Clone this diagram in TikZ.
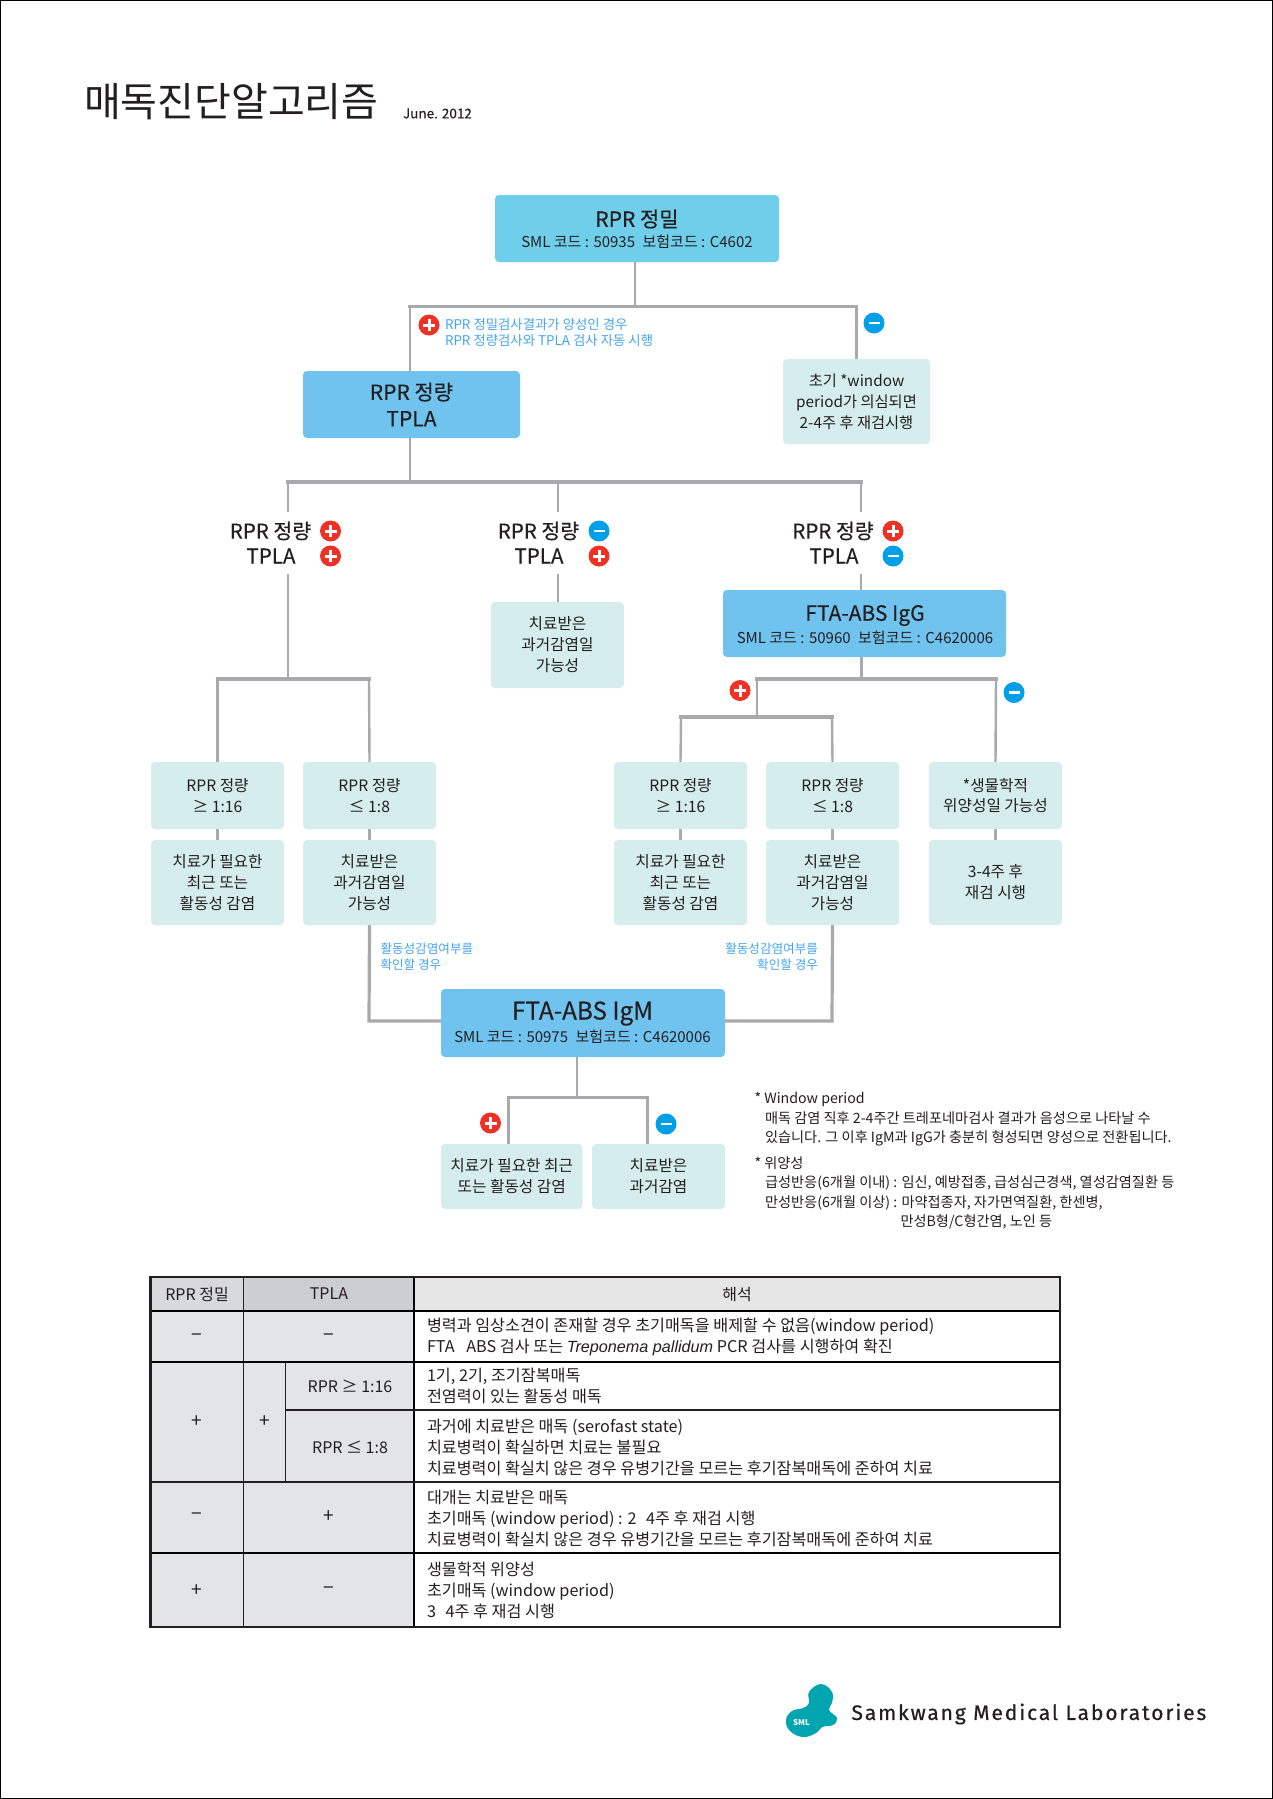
\documentclass[tikz,border=0pt]{standalone}
\usepackage{fontspec}
\setmainfont{Noto Sans CJK KR}
\newfontfamily\latinit{Liberation Sans}
\newfontfamily\medfont[FakeBold=0.35]{Noto Sans CJK KR}
\newfontfamily\logofont[LetterSpace=9,FakeBold=0.5]{Fira Sans}
\newcommand{\fsz}[2]{\fontsize{#1}{#2}\selectfont}
\pgfdeclarelayer{bg}
\pgfsetlayers{bg,main}
\definecolor{topblue}{HTML}{6FCFEB}
\definecolor{midblue}{HTML}{70C3EF}
\definecolor{lightbox}{HTML}{D5EDEC}
\definecolor{connc}{HTML}{A7A9AC}
\definecolor{plusred}{HTML}{EE3124}
\definecolor{minusblue}{HTML}{009FE8}
\definecolor{bluetext}{HTML}{45A5F2}
\definecolor{cellgrey}{HTML}{E3E4E6}
\definecolor{headgrey}{HTML}{D8D9DB}
\definecolor{headdark}{HTML}{CDCED0}
\definecolor{headlight}{HTML}{E6E6E6}
\definecolor{logoteal}{HTML}{00A5B0}
\definecolor{inkc}{HTML}{231F20}
\tikzset{
  x=1pt,y=-1pt,
  every node/.style={text=inkc,inner sep=0pt,outer sep=0pt},
  conn/.style={draw=connc,line width=3.2pt,line cap=rect},
  conns/.style={draw=connc,line width=2.4pt},
  basebox/.style={rounded corners=4pt,align=center,draw=none},
  topbox/.style={basebox,fill=topblue},
  bluebox/.style={basebox,fill=midblue},
  softbox/.style={basebox,fill=lightbox,font=\fsz{15.7}{21}},
  rowone/.style={softbox,minimum width=133pt,minimum height=67pt,font=\fsz{15.7}{20.5}},
  rowtwo/.style={softbox,minimum width=133pt,minimum height=85pt},
  flabel/.style={font=\fsz{20.5}{22}\medfont},
  boxtitle/.style={font=\fsz{21}{22}\medfont},
  boxsub/.style={font=\fsz{15}{17}},
  bluenote/.style={text=bluetext,font=\fsz{12.6}{16.5}},
  footnote/.style={anchor=west,font=\fsz{14.2}{19}},
  tcell/.style={anchor=west,align=left,font=\fsz{16.2}{21}},
  tmark/.style={font=\fsz{19}{21}},
  thead/.style={font=\fsz{16}{21}},
  plusicon/.pic={\fill[plusred] (0,0) circle[radius=10.5]; \fill[white] (-6,-1.5) rectangle (6,1.5); \fill[white] (-1.5,-6) rectangle (1.5,6);},
  minusicon/.pic={\fill[minusblue] (0,0) circle[radius=10.5]; \fill[white] (-5.5,-1.3) rectangle (5.5,1.3);},
  tline/.style={draw=black,line width=1.5pt},
  tthick/.style={draw=inkc,line width=2.6pt},
  tthin/.style={draw=inkc,line width=.8pt},
}
\begin{document}
\begin{tikzpicture}
\useasboundingbox (0,0) rectangle (1273,1799);
\begin{pgfonlayer}{bg}
\fill[white] (0,0) rectangle (1273,1799);
\end{pgfonlayer}
\draw[black,line width=2pt] (0,0) rectangle (1273,1799);

% ---------- title
\node[anchor=west,font=\fsz{40}{42}] (title) at (84,102) {매독진단알고리즘};
\node[anchor=west,font=\fsz{13.5}{15}\medfont] (date) at (403,113.5) {June. 2012};

% ---------- junction points
\coordinate (ja) at (635,306.5);
\coordinate (jal) at (410,306.5);
\coordinate (jar) at (856.5,306.5);
\coordinate (jb) at (410,482);
\coordinate (jbl) at (288,482);
\coordinate (jbm) at (558,482);
\coordinate (jbr) at (861,482);
\coordinate (lte) at (288,512);
\coordinate (lts) at (288,574);
\coordinate (mte) at (558,512);
\coordinate (mts) at (558,574);
\coordinate (rte) at (861,512);
\coordinate (rts) at (861,574);
\coordinate (jc) at (288,679);
\coordinate (jcl) at (217.5,679);
\coordinate (jcr) at (369,679);
\coordinate (jd) at (861.5,679);
\coordinate (jdl) at (757,679);
\coordinate (jdr) at (996,679);
\coordinate (je) at (757,717);
\coordinate (jel) at (681,717);
\coordinate (jer) at (832,717);
\coordinate (jfl) at (369,1021);
\coordinate (jfr) at (832,1021);
\coordinate (jg) at (577,1097.5);
\coordinate (jgl) at (508.5,1097.5);
\coordinate (jgr) at (647.5,1097.5);

% ---------- boxes
\node[topbox,minimum width=284pt,minimum height=67pt] (rprq) at (637,228.5) {};
\node[boxtitle] (rprqt) at (637,219) {RPR 정밀};
\node[boxsub] (rprqs) at (637,242) {SML 코드 : 50935\enspace 보험코드 : C4602};

\node[bluebox,minimum width=217pt,minimum height=67pt,font=\fsz{21}{26.5}\medfont] (quant) at (411.5,404.5) {RPR 정량\\TPLA};
\node[softbox,minimum width=147pt,minimum height=85pt,font=\fsz{15.3}{21}] (win) at (856.5,401.5) {초기 *window\\period가 의심되면\\2-4주 후 재검시행};

\node[softbox,minimum width=133pt,minimum height=86pt] (past) at (557.5,645) {치료받은\\과거감염일\\가능성};

\node[bluebox,minimum width=283pt,minimum height=67pt] (igg) at (864.5,623.5) {};
\node[boxtitle] (iggt) at (865,615.5) {FTA-ABS IgG};
\node[boxsub] (iggs) at (865,638) {SML 코드 : 50960\enspace 보험코드 : C4620006};

\node[rowone] (a1) at (217.5,795.5) {RPR 정량\\≥ 1:16};
\node[rowone] (a2) at (369.5,795.5) {RPR 정량\\≤ 1:8};
\node[rowone] (a3) at (680.5,795.5) {RPR 정량\\≥ 1:16};
\node[rowone] (a4) at (832.5,795.5) {RPR 정량\\≤ 1:8};
\node[rowone] (a5) at (995.5,795.5) {*생물학적\\위양성일 가능성};

\node[rowtwo] (b1) at (217.5,882.5) {치료가 필요한\\최근 또는\\활동성 감염};
\node[rowtwo] (b2) at (369.5,882.5) {치료받은\\과거감염일\\가능성};
\node[rowtwo] (b3) at (680.5,882.5) {치료가 필요한\\최근 또는\\활동성 감염};
\node[rowtwo] (b4) at (832.5,882.5) {치료받은\\과거감염일\\가능성};
\node[rowtwo] (b5) at (995.5,882.5) {3-4주 후\\재검 시행};

\node[bluebox,minimum width=284pt,minimum height=68pt] (igm) at (583,1023) {};
\node[boxtitle,font=\fsz{24.3}{25}\medfont] (igmt) at (582.5,1013.5) {FTA-ABS IgM};
\node[boxsub] (igms) at (582.5,1036.5) {SML 코드 : 50975\enspace 보험코드 : C4620006};

\node[softbox,minimum width=141.5pt,minimum height=65pt] (c1) at (511.75,1176.5) {치료가 필요한 최근\\또는 활동성 감염};
\node[softbox,minimum width=133pt,minimum height=65pt] (c2) at (658.5,1176.5) {치료받은\\과거감염};

% ---------- connectors (behind the boxes)
\begin{pgfonlayer}{bg}
\draw[conns] (ja |- rprq.south) -- (ja);
\draw[conn] (jal) -- (jar);
\draw[conns] (jal) -- (jal |- quant.north);
\draw[conns] (jar) -- (win.north);
\draw[conns] (jb |- quant.south) -- (jb);
\draw[conn] (jbl) -- (jbr);
\draw[conns] (jbl) -- (lte);
\draw[conns] (jbm) -- (mte);
\draw[conns] (jbr) -- (rte);
\draw[conns] (lts) -- (jc);
\draw[conn] (jcl) -- (jcr);
\draw[conns] (jcl) -- (a1.north);
\draw[conns] (jcr) -- (a2.north);
\draw[conns] (mts) -- (mts |- past.north);
\draw[conns] (rts) -- (rts |- igg.north);
\draw[conns] (jd |- igg.south) -- (jd);
\draw[conn] (jdl) -- (jdr);
\draw[conns] (jdl) -- (je);
\draw[conn] (jel) -- (jer);
\draw[conns] (jel) -- (a3.north);
\draw[conns] (jer) -- (a4.north);
\draw[conns] (jdr) -- (a5.north);
\foreach \n in {1,...,5}{\draw[conns] (a\n.south) -- (b\n.north);}
\draw[conn] (b2.south) -- (jfl) -- (jfl -| igm.west);
\draw[conn] (b4.south) -- (jfr) -- (jfr -| igm.east);
\draw[conns] (jg |- igm.south) -- (jg);
\draw[conn] (jgl) -- (jgr);
\draw[conns] (jgl) -- (jgl |- c1.north);
\draw[conns] (jgr) -- (jgr |- c2.north);
\end{pgfonlayer}

% ---------- result labels
\node[flabel] (l1a) at (270.5,531) {RPR 정량};
\node[flabel] (l1b) at (271,556) {TPLA};
\node[flabel] (l2a) at (538.5,531) {RPR 정량};
\node[flabel] (l2b) at (539,556) {TPLA};
\node[flabel] (l3a) at (833,531) {RPR 정량};
\node[flabel] (l3b) at (834,556) {TPLA};

% ---------- icons
\pic at (429,325) {plusicon};
\pic at (874,323) {minusicon};
\pic at (330.5,531) {plusicon};
\pic at (330.5,556) {plusicon};
\pic at (599,531) {minusicon};
\pic at (599,556) {plusicon};
\pic at (893,531) {plusicon};
\pic at (893,556) {minusicon};
\pic at (740,690.5) {plusicon};
\pic at (1014,692.5) {minusicon};
\pic at (490.5,1123) {plusicon};
\pic at (666,1124) {minusicon};

% ---------- blue notes
\node[bluenote,font=\fsz{13.4}{16.5},anchor=west,align=left] (note1) at (445,332.5) {RPR 정밀검사결과가 양성인 경우\\RPR 정량검사와 TPLA 검사 자동 시행};
\node[bluenote,anchor=west,align=left] (note2) at (380.5,956.5) {활동성감염여부를\\확인할 경우};
\node[bluenote,anchor=east,align=right] (note3) at (818,956.5) {활동성감염여부를\\확인할 경우};

% ---------- footnotes
\node[footnote] (f1) at (754.5,1099.5) {* Window period};
\node[footnote] (f2) at (765,1118.5) {매독 감염 직후 2-4주간 트레포네마검사 결과가 음성으로 나타날 수};
\node[footnote] (f3) at (765,1138) {있습니다. 그 이후 IgM과 IgG가 충분히 형성되면 양성으로 전환됩니다.};
\node[footnote] (f4) at (754.5,1163) {* 위양성};
\node[footnote] (f5) at (765,1182.5) {급성반응(6개월 이내) : 임신, 예방접종, 급성심근경색, 열성감염질환 등};
\node[footnote] (f6) at (765,1203) {만성반응(6개월 이상) : 마약접종자, 자가면역질환, 한센병,};
\node[footnote] (f7) at (900.5,1222) {만성B형/C형간염, 노인 등};

% ---------- table
\fill[cellgrey] (150.5,1277) rectangle (414,1627);
\fill[headgrey] (150.5,1277) rectangle (243,1311);
\fill[headdark] (243,1277) rectangle (414,1311);
\fill[headlight] (414,1277) rectangle (1060,1311);
\draw[tthin] (243,1277) -- (243,1627);
\draw[tthin] (285,1362) -- (285,1482);
\draw[tline] (414,1277) -- (414,1627);
\draw[tline] (150.5,1311) -- (1060,1311);
\draw[tline] (150.5,1362) -- (1060,1362);
\draw[tthick] (285,1410) -- (1060,1410);
\draw[tthick] (150.5,1482) -- (1060,1482);
\draw[tline] (150.5,1553) -- (1060,1553);
\draw[tthick] (150.5,1277) rectangle (1060,1627);

\node[thead] (h1) at (197,1294) {RPR 정밀};
\node[thead] (h2) at (329,1294) {TPLA};
\node[thead] (h3) at (737,1294) {해석};

\node[tmark] (r1a) at (197,1338) {−};
\node[tmark] (r1b) at (329,1338) {−};
\node[tmark] (r2a) at (197,1421.5) {+};
\node[tmark] (r2b) at (265,1421.5) {+};
\node[thead] (r2c) at (350,1386) {RPR ≥ 1:16};
\node[thead] (r2d) at (350,1447) {RPR ≤ 1:8};
\node[tmark] (r3a) at (197,1517) {−};
\node[tmark] (r3b) at (329,1517) {+};
\node[tmark] (r4a) at (197,1591) {+};
\node[tmark] (r4b) at (329,1591) {−};

\node[tcell] (t1) at (427,1336.5) {병력과 임상소견이 존재할 경우 초기매독을 배제할 수 없음(window period)\\FTA\hspace{8pt} ABS 검사 또는 {\latinit\itshape Treponema pallidum} PCR 검사를 시행하여 확진};
\node[tcell] (t2) at (427,1386) {1기, 2기, 조기잠복매독\\전염력이 있는 활동성 매독};
\node[tcell] (t3) at (427,1447) {과거에 치료받은 매독 (serofast state)\\치료병력이 확실하면 치료는 불필요\\치료병력이 확실치 않은 경우 유병기간을 모르는 후기잠복매독에 준하여 치료};
\node[tcell] (t4) at (427,1518) {대개는 치료받은 매독\\초기매독 (window period) : 2\hspace{6pt} 4주 후 재검 시행\\치료병력이 확실치 않은 경우 유병기간을 모르는 후기잠복매독에 준하여 치료};
\node[tcell] (t5) at (427,1590.5) {생물학적 위양성\\초기매독 (window period)\\3\hspace{6pt} 4주 후 재검 시행};

% ---------- logo
\fill[logoteal] plot[smooth cycle,tension=.7] coordinates {(821,1684) (832,1692) (832,1703) (829,1710) (837,1718) (833,1725) (822,1727) (816,1733) (803,1737) (790,1731) (786,1720) (792,1711) (803,1708) (809,1703) (809,1692)};
\node[text=white,font=\fsz{8}{9}\bfseries] (lsml) at (801.5,1723) {SML};
\node[anchor=west,font=\fsz{21}{24}\logofont] (lname) at (851.5,1714) {Samkwang Medical Laboratories};
\end{tikzpicture}
\end{document}
